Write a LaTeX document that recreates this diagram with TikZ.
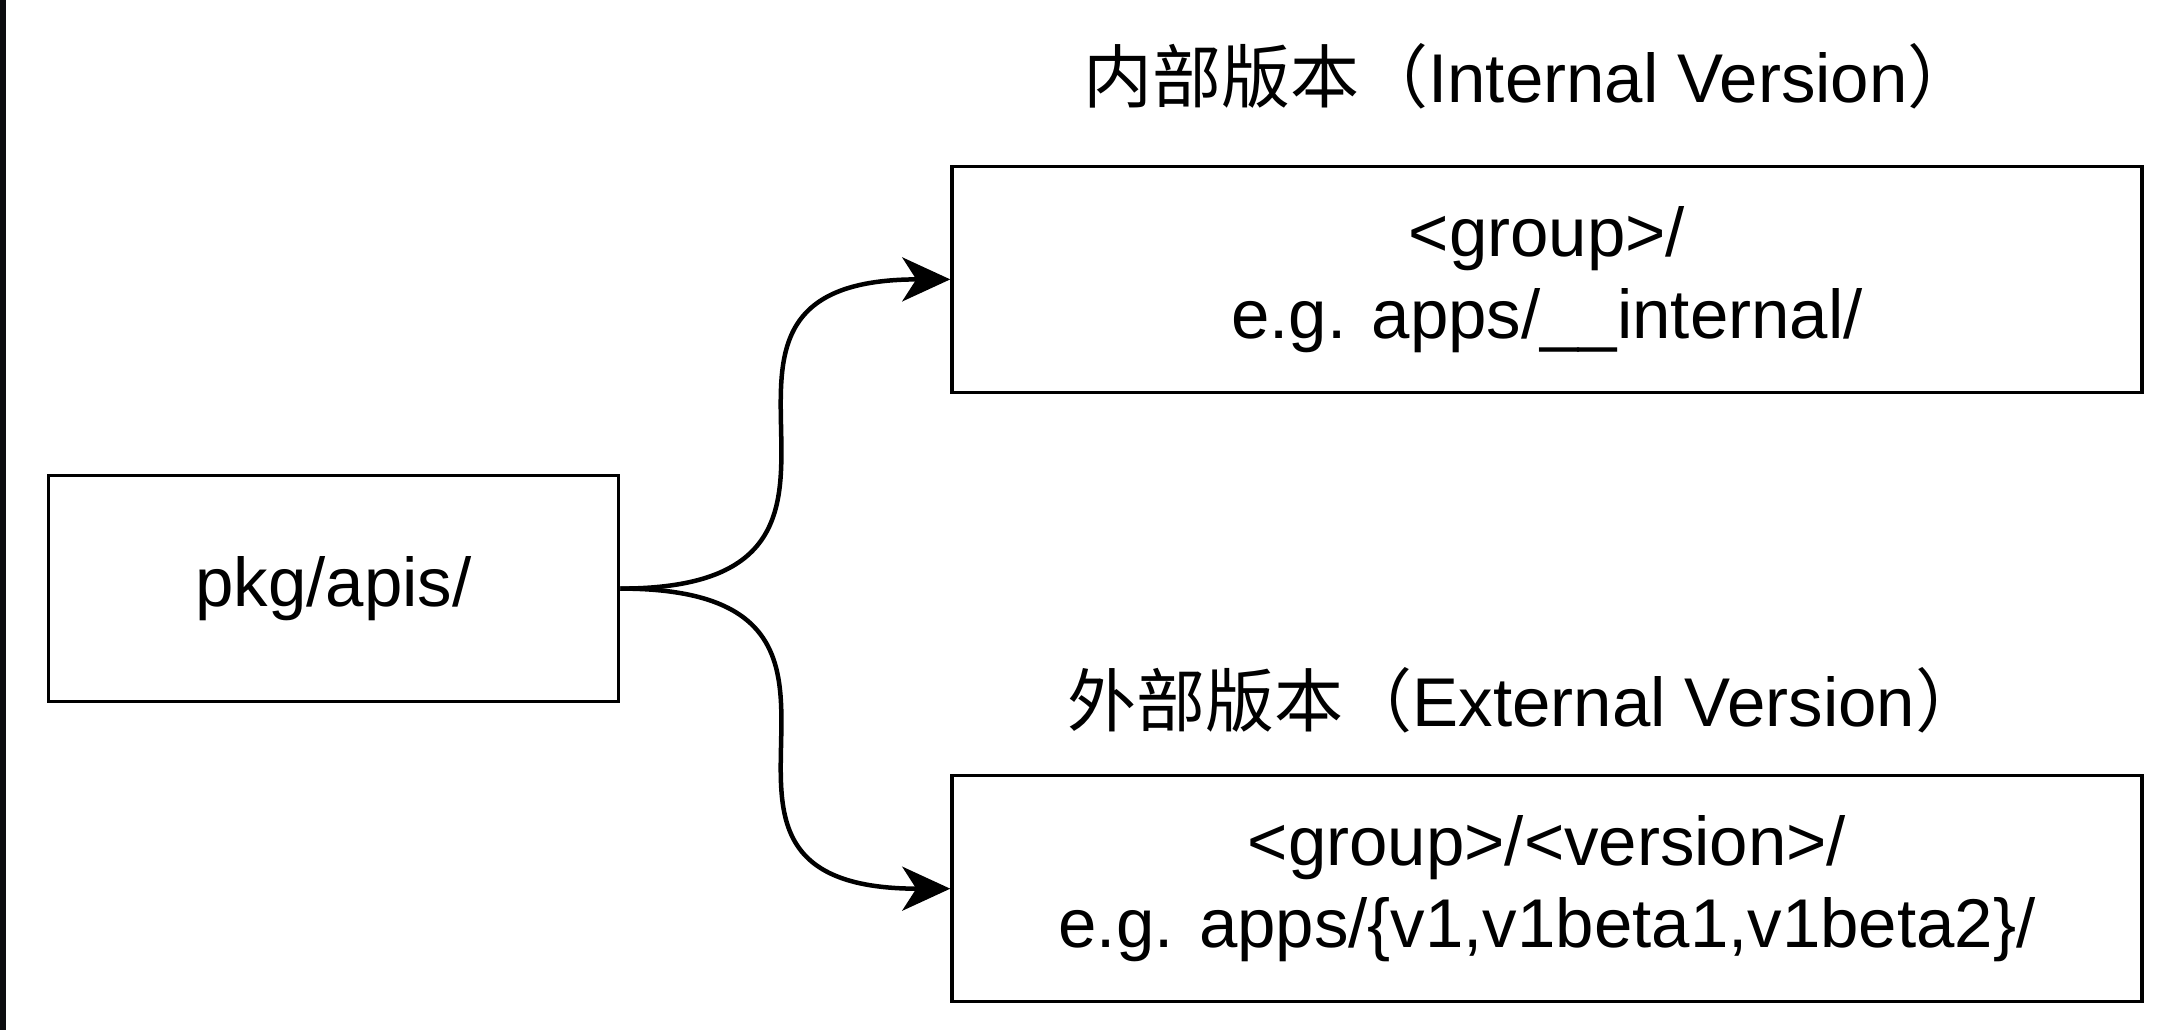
\documentclass[tikz,border=0pt]{standalone}
\usepackage{fontspec}
\setmainfont{Liberation Sans}
\newfontfamily\cjk{Noto Sans CJK SC}
\usetikzlibrary{arrows.meta}
\definecolor{edgestrip}{RGB}{12,13,15}
\newcommand*{\picwd }{2174pt}
\newcommand*{\picht }{1030pt}
\newcommand*{\boxht }{226pt}
\newcommand*{\pkgwd }{570pt}
\newcommand*{\verwd }{1190pt}
\newcommand*{\bend  }{320pt}

\begin{document}
\begin{tikzpicture}[x=1pt, y=1pt,
        font=\fontsize{69}{82}\selectfont,
        dirbox/.style={draw=black, line width=3.5pt, fill=white, align=center, inner sep=0pt},
        link/.style={line width=4.5pt, -{Stealth[length=48pt, width=44pt, inset=14pt]}}]
        \useasboundingbox [fill=white] (0,0) rectangle (\picwd,\picht);
        \fill [edgestrip] (0,0) rectangle (6,\picht);
        \node [dirbox, minimum width=\pkgwd, minimum height=\boxht] (pkg) at (333.5,441.4) {pkg/apis/};
        \node [dirbox, minimum width=\verwd, minimum height=\boxht] (int) at (1547,750.6) {<group>/\\e.g. apps/\_\_internal/};
        \node [dirbox, minimum width=\verwd, minimum height=\boxht] (ext) at (1547,141.3) {<group>/<version>/\\e.g. apps/\{v1,v1beta1,v1beta2\}/};
        \node (inttitle) at (1530,954) {{\cjk 内部版本（}Internal Version{\cjk ）}};
        \node (exttitle) at (1526,330) {{\cjk 外部版本（}External Version{\cjk ）}};
        \draw [link] (pkg.east) .. controls +(\bend,0) and +(-\bend,0) .. (int.west);
        \draw [link] (pkg.east) .. controls +(\bend,0) and +(-\bend,0) .. (ext.west);
        %\draw [link] (pkg.east) to[out=0, in=180] (ext.west);
    \end{tikzpicture}
\end{document}
